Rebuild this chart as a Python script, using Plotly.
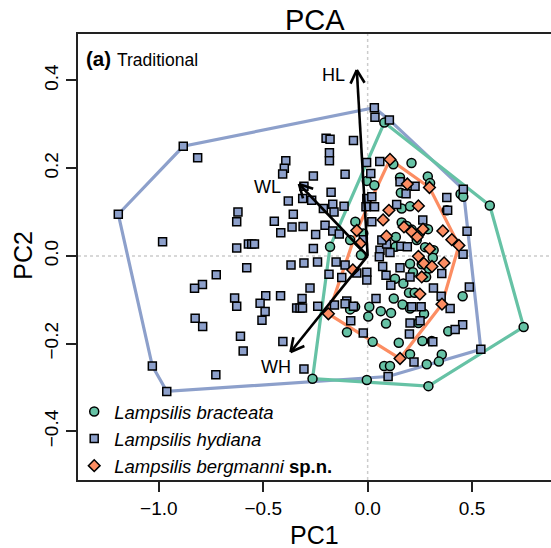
import math
import plotly.graph_objects as go

# ---------------- data ----------------
species = ["Lampsilis bracteata", "Lampsilis hydiana", "Lampsilis bergmanni"]

bracteata = [
    (-0.264, -0.280), (-0.004, -0.283), (0.291, -0.297), (0.747, -0.162), (0.585, 0.115),
    (0.445, 0.141), (0.458, 0.135), (0.080, 0.304), (-0.180, 0.021), (0.123, 0.209),
    (0.210, 0.212), (0.155, 0.179), (0.288, 0.181), (0.299, 0.166), (-0.004, 0.171),
    (0.032, 0.161), (0.159, 0.144), (0.379, 0.104), (0.163, 0.108), (0.203, 0.113),
    (-0.059, 0.078), (-0.021, 0.051), (-0.084, 0.036), (-0.032, 0.002), (0.163, 0.076),
    (0.187, 0.068), (0.211, 0.060), (0.251, 0.053), (0.289, 0.061), (0.135, 0.043),
    (0.134, 0.021), (0.235, 0.036), (0.275, 0.020), (0.316, 0.013), (0.312, -0.004),
    (0.203, -0.018), (0.259, -0.019), (0.217, -0.037), (0.294, -0.029), (0.280, -0.048),
    (0.131, -0.052), (0.171, -0.063), (0.198, -0.084), (0.225, -0.084), (0.125, -0.097),
    (0.167, -0.111), (0.203, -0.120), (0.008, -0.116), (-0.060, -0.116), (-0.084, -0.122),
    (0.063, -0.126), (0.112, -0.130), (0.003, -0.138), (0.088, -0.154), (0.243, -0.153),
    (0.270, -0.132), (-0.099, -0.174), (0.024, -0.196), (0.149, -0.198), (0.455, -0.092),
    (0.386, -0.172), (0.262, -0.194), (0.307, -0.194), (0.203, -0.224), (0.355, -0.225),
    (0.341, -0.241), (0.079, -0.251), (0.107, -0.251), (0.283, -0.247),
]

hydiana = [
    (-0.883, 0.250), (-1.194, 0.095), (-1.031, -0.251), (-0.962, -0.309), (-0.814, 0.224),
    (-0.392, 0.217), (-0.399, 0.200), (-0.407, 0.187), (-0.260, 0.182), (-0.305, 0.159),
    (-0.311, 0.131), (-0.268, 0.127), (-0.380, 0.125), (-0.621, 0.100), (-0.627, 0.078),
    (-0.356, 0.095), (-0.447, 0.079), (-0.416, 0.053), (-0.362, 0.066), (-0.309, 0.067),
    (-0.249, 0.049), (-0.982, 0.032), (-0.627, 0.018), (-0.571, 0.027), (-0.555, 0.027),
    (-0.542, 0.027), (-0.260, 0.017), (-0.240, -0.014), (-0.579, -0.027), (-0.367, -0.021),
    (-0.725, -0.043), (-0.791, -0.065), (-0.829, -0.074), (-0.276, -0.073), (-0.637, -0.096),
    (-0.627, -0.115), (-0.488, -0.091), (-0.417, -0.091), (-0.515, -0.108), (-0.491, -0.127),
    (-0.506, -0.147), (-0.314, -0.097), (-0.340, -0.119), (-0.324, -0.119), (-0.312, -0.119),
    (-0.239, -0.115), (-0.826, -0.142), (-0.790, -0.161), (-0.609, -0.183), (-0.596, -0.217),
    (-0.406, -0.195), (-0.305, -0.258), (-0.727, -0.271), (-0.175, 0.145), (-0.212, 0.108),
    (-0.167, 0.118), (-0.161, 0.100), (-0.113, 0.113), (-0.204, 0.070), (-0.167, 0.057),
    (-0.136, 0.050), (-0.151, -0.014), (-0.185, -0.042), (-0.124, -0.049), (-0.159, -0.112),
    (-0.100, -0.103), (0.032, 0.338), (0.035, 0.316), (0.104, 0.310), (-0.199, 0.268),
    (-0.180, 0.266), (-0.068, 0.263), (-0.183, 0.235), (-0.183, 0.217), (-0.108, 0.186),
    (-0.005, 0.213), (0.058, 0.215), (0.015, 0.188), (-0.004, 0.131), (0.020, 0.135),
    (-0.008, 0.112), (0.033, 0.112), (0.155, 0.169), (0.227, 0.159), (0.184, 0.142),
    (0.379, 0.133), (0.383, 0.104), (0.458, 0.152), (0.139, 0.117), (0.264, 0.082),
    (0.476, 0.056), (0.457, 0.004), (-0.021, 0.037), (0.020, 0.078), (0.059, 0.013),
    (0.056, -0.002), (0.107, 0.008), (0.159, 0.022), (0.190, 0.021), (0.091, 0.027),
    (0.068, 0.036), (-0.305, -0.016), (-0.108, -0.021), (-0.052, -0.039), (-0.004, -0.037),
    (0.072, -0.024), (0.088, -0.044), (0.155, -0.027), (0.203, -0.048), (0.111, -0.067),
    (-0.004, -0.055), (0.355, -0.040), (0.315, -0.073), (0.487, -0.071), (-0.108, -0.109),
    (-0.068, -0.115), (0.040, -0.097), (0.211, -0.116), (0.256, -0.116), (0.352, -0.092),
    (0.395, -0.120), (-0.081, -0.148), (0.203, -0.153), (0.200, -0.178), (0.251, -0.148),
    (-0.021, -0.176), (0.455, -0.157), (0.419, -0.168), (0.312, -0.196), (0.542, -0.213),
    (0.222, -0.242), (0.098, -0.275),
]

bergmanni = [
    (0.107, 0.220), (0.190, 0.164), (0.296, 0.156), (0.243, 0.114), (0.102, 0.104),
    (0.074, 0.082), (-0.052, 0.058), (-0.036, 0.028), (0.090, 0.045), (0.174, 0.066),
    (0.211, 0.055), (0.237, 0.043), (0.265, 0.061), (0.297, 0.016), (0.360, 0.057),
    (0.403, 0.037), (0.437, 0.024), (0.243, -0.001), (0.269, -0.017), (0.308, -0.024),
    (0.366, -0.016), (0.259, -0.048), (0.250, -0.087), (0.356, -0.110), (-0.071, -0.032),
    (-0.188, -0.132), (0.155, -0.234),
]

loading_names = ["HL", "WL", "WH"]
loading_x = [-0.052, -0.329, -0.369]
loading_y = [0.424, 0.164, -0.219]

x_ticks = [-1.0, -0.5, 0.0, 0.5]
x_tick_text = ["\u22121.0", "\u22120.5", "0.0", "0.5"]
y_ticks = [-0.4, -0.2, 0.0, 0.2, 0.4]
y_tick_text = ["\u22120.4", "\u22120.2", "0.0", "0.2", "0.4"]

# ---------------- styling / layout ----------------
W, H = 551, 548
ML, MR, MT, MB = 78, 0, 34, 68
XR = [-1.387, 0.878]
YR = [-0.511, 0.506]
PW, PH = W - ML - MR, H - MT - MB
FONT = "Liberation Sans, Arial, Helvetica, sans-serif"
COL = {"Lampsilis bracteata": "#66C2A5", "Lampsilis hydiana": "#8DA0CB",
       "Lampsilis bergmanni": "#FC8D62"}
SYM = {"Lampsilis bracteata": ("circle", 9), "Lampsilis hydiana": ("square", 8),
       "Lampsilis bergmanni": ("diamond", 9)}
LEG = {"Lampsilis bracteata": "<i>Lampsilis bracteata</i>",
       "Lampsilis hydiana": "<i>Lampsilis hydiana</i>",
       "Lampsilis bergmanni": "<i>Lampsilis bergmanni</i> <b>sp.n.</b>"}
groups = {"Lampsilis bracteata": bracteata, "Lampsilis hydiana": hydiana,
          "Lampsilis bergmanni": bergmanni}


def px2paper(px, py):
    return (px - ML) / PW, ((H - MB) - py) / PH


def convex_hull(pts):
    p = sorted(set(pts))

    def cross(o, a, b):
        return (a[0] - o[0]) * (b[1] - o[1]) - (a[1] - o[1]) * (b[0] - o[0])

    lower, upper = [], []
    for q in p:
        while len(lower) >= 2 and cross(lower[-2], lower[-1], q) <= 0:
            lower.pop()
        lower.append(q)
    for q in reversed(p):
        while len(upper) >= 2 and cross(upper[-2], upper[-1], q) <= 0:
            upper.pop()
        upper.append(q)
    h = lower[:-1] + upper[:-1]
    return h + [h[0]]


fig = go.Figure()

# hulls
for name in ["Lampsilis hydiana", "Lampsilis bracteata", "Lampsilis bergmanni"]:
    h = convex_hull(groups[name])
    fig.add_trace(go.Scatter(x=[q[0] for q in h], y=[q[1] for q in h], mode="lines",
                             line=dict(color=COL[name], width=3.2), showlegend=False,
                             hoverinfo="skip"))

# points
for name in species:
    pts = groups[name]
    sym, size = SYM[name]
    fig.add_trace(go.Scatter(x=[q[0] for q in pts], y=[q[1] for q in pts], mode="markers",
                             name=LEG[name],
                             marker=dict(symbol=sym, size=size, color=COL[name],
                                         line=dict(color="black", width=1.5))))

# loading arrows (open arrowheads computed in pixel space)
sx = PW / (XR[1] - XR[0])
sy = PH / (YR[1] - YR[0])
HEAD_LEN, HEAD_ANG = 15, math.radians(28)
ax_, ay_ = [], []
for lx, ly in zip(loading_x, loading_y):
    ang = math.atan2(ly * sy, lx * sx)
    ax_ += [0, lx, None]
    ay_ += [0, ly, None]
    for s in (1, -1):
        a = ang + math.pi + s * HEAD_ANG
        ax_ += [lx + HEAD_LEN * math.cos(a) / sx, lx, None]
        ay_ += [ly + HEAD_LEN * math.sin(a) / sy, ly, None]
fig.add_trace(go.Scatter(x=ax_, y=ay_, mode="lines", line=dict(color="black", width=2.6),
                         showlegend=False, hoverinfo="skip"))

label_shift = {"HL": (-23, -5), "WL": (-31, -3), "WH": (-15, -15)}
for nm, lx, ly in zip(loading_names, loading_x, loading_y):
    dx, dy = label_shift[nm]
    fig.add_annotation(x=lx, y=ly, xref="x", yref="y", text=nm, showarrow=False,
                       xanchor="center", yanchor="middle",
                       xshift=dx, yshift=dy, font=dict(family=FONT, size=18, color="black"))

# reference dotted lines
fig.add_shape(type="line", xref="x", yref="paper", x0=0, x1=0, y0=0, y1=1, layer="below",
              line=dict(color="#cccccc", width=1.5, dash="dot"))
fig.add_shape(type="line", xref="paper", yref="y", x0=0, x1=1, y0=0, y1=0, layer="below",
              line=dict(color="#cccccc", width=1.5, dash="dot"))


def label(text, px, py, size, anchor="center", angle=0):
    xp, yp = px2paper(px, py)
    fig.add_annotation(xref="paper", yref="paper", x=xp, y=yp, text=text, showarrow=False,
                       xanchor=anchor, yanchor="middle", textangle=angle, borderpad=0,
                       font=dict(family=FONT, size=size, color="black"))


label("PCA", 314.5, 20.5, 29)
label("PC1", 314.5, 535, 25)
label("PC2", 23, 255.7, 25, angle=-90)
label("<b>(a)</b>", 85, 58.5, 20.5, anchor="left")
label("Traditional", 116, 59.5, 17.5, anchor="left")

axis_common = dict(showgrid=False, zeroline=False, showline=True, linecolor="#222222",
                   linewidth=2, ticks="outside", ticklen=10, tickwidth=1.5, tickcolor="#222222",
                   tickfont=dict(family=FONT, size=19, color="black"))
fig.update_xaxes(range=XR, tickvals=x_ticks, ticktext=x_tick_text, mirror=True, **axis_common)
fig.update_yaxes(range=YR, tickvals=y_ticks, ticktext=y_tick_text, tickangle=-90, mirror=False,
                 **axis_common)

fig.update_layout(
    width=W, height=H, margin=dict(l=ML, r=MR, t=MT, b=MB, pad=0),
    plot_bgcolor="white", paper_bgcolor="white",
    font=dict(family=FONT, color="black"),
    showlegend=True,
    legend=dict(x=-0.008, y=px2paper(0, 393)[1], xanchor="left", yanchor="top",
                bgcolor="rgba(0,0,0,0)", font=dict(family=FONT, size=18.5, color="black"),
                itemsizing="trace"),
)

fig.write_html("out.html")
